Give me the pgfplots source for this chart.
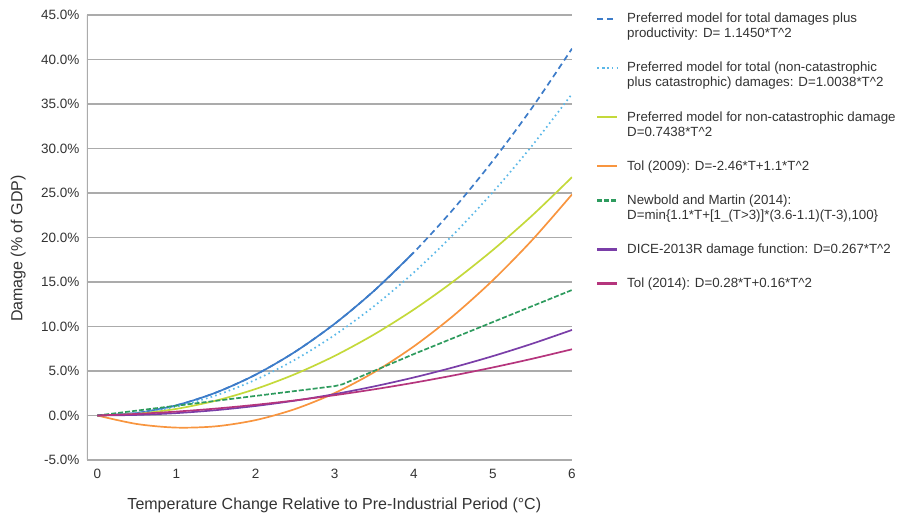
\documentclass[border=0pt]{standalone}
\usepackage{fontspec}
\setmainfont{Liberation Sans}
\usepackage{pgfplots}
\pgfplotsset{compat=1.18}
\definecolor{cBlue}{HTML}{3D7CC9}
\definecolor{cLBlue}{HTML}{5BB8E8}
\definecolor{cYG}{HTML}{C4D93A}
\definecolor{cOr}{HTML}{F8953F}
\definecolor{cGr}{HTML}{2E9B5E}
\definecolor{cPu}{HTML}{7A3EA8}
\definecolor{cMa}{HTML}{B5357D}
\definecolor{cGrid}{HTML}{ABABAB}
\definecolor{cTxt}{HTML}{333333}
\begin{document}
\begin{tikzpicture}
\useasboundingbox (0,0) rectangle (897pt,516pt);
\begin{axis}[
  at={(87pt,56pt)}, anchor=south west,
  scale only axis, width=485pt, height=445pt,
  xmin=-0.13, xmax=6, ymin=-5, ymax=45,
  xtick={0,1,2,3,4,5,6},
  ytick={-5,0,5,10,15,20,25,30,35,40,45},
  yticklabels={-5.0\%,0.0\%,5.0\%,10.0\%,15.0\%,20.0\%,25.0\%,30.0\%,35.0\%,40.0\%,45.0\%},
  /pgf/number format/assume math mode=true,
  axis line style={draw=none},
  axis x line*=bottom,
  axis y line*=left,
  major tick length=0pt,
  ymajorgrids, grid style={cGrid, line width=1.3pt},
  tick label style={font=\fontsize{13.5}{15}\selectfont, text=cTxt},
  xticklabel style={yshift=-6pt},
  yticklabel style={xshift=-4pt},
  xlabel={Temperature Change Relative to Pre-Industrial Period (°C)},
  ylabel={Damage (\% of GDP)},
  label style={font=\fontsize{16}{18}\selectfont, text=cTxt},
  xlabel style={at={(axis description cs:0.51,0)}, anchor=center, yshift=-45pt},
  ylabel style={at={(axis description cs:-0.142,0.475)}, anchor=center},
  legend image code/.code={\draw[#1, line width=2.3pt] plot coordinates {(0cm,0cm) (0.7cm,0cm)}; \path (0.95cm,0cm);},
  legend style={at={(axis description cs:1,1)}, anchor=north west, xshift=21pt, yshift=6pt,
    draw=none, fill=none, font=\fontsize{13.3}{15}\selectfont, text=cTxt,
    row sep=19pt, cells={anchor=west, align=left}},
  legend cell align=left,
  every axis plot/.append style={line width=1.7pt},
]
\draw[cGrid, line width=1.3pt] (axis cs:-0.13,-5) -- (axis cs:-0.13,45);
% solid blue underlay
\addplot[cBlue, smooth, forget plot] coordinates {
(0,0) (0.5,0.286) (1,1.145) (1.5,2.576) (2,4.58) (2.5,7.156) (3,10.305) (3.5,14.026) (4,18.32)};
\addplot[cBlue, smooth, dash pattern=on 6pt off 4pt, legend image post style={yshift=7.3pt}] coordinates {
(0,0) (0.5,0.286) (1,1.145) (1.5,2.576) (2,4.58) (2.5,7.156) (3,10.305) (3.5,14.026) (4,18.32) (4.5,23.186) (5,28.625) (5.5,34.636) (6,41.22)};
\addlegendentry{Preferred model for total damages plus\\productivity: D= 1.1450*T\^{}2}
\addplot[cLBlue, smooth, dash pattern=on 1.6pt off 3.2pt, legend image post style={yshift=7.3pt}] coordinates {
(0,0) (0.5,0.251) (1,1.004) (1.5,2.259) (2,4.015) (2.5,6.274) (3,9.034) (3.5,12.297) (4,16.061) (4.5,20.327) (5,25.095) (5.5,30.365) (6,36.137)};
\addlegendentry{Preferred model for total (non-catastrophic\\plus catastrophic) damages: D=1.0038*T\^{}2}
\addplot[cYG, smooth, legend image post style={yshift=7.3pt}] coordinates {
(0,0) (0.5,0.186) (1,0.744) (1.5,1.674) (2,2.975) (2.5,4.649) (3,6.694) (3.5,9.112) (4,11.901) (4.5,15.062) (5,18.595) (5.5,22.5) (6,26.777)};
\addlegendentry{Preferred model for non-catastrophic damage\\D=0.7438*T\^{}2}
\addplot[cOr, smooth] coordinates {
(0,0) (0.5,-0.955) (1,-1.36) (1.5,-1.215) (2,-0.52) (2.5,0.725) (3,2.52) (3.5,4.865) (4,7.76) (4.5,11.205) (5,15.2) (5.5,19.745) (6,24.84)};
\addlegendentry{Tol (2009): D=-2.46*T+1.1*T\^{}2}
\addplot[cGr, dash pattern=on 5pt off 2pt, legend image post style={yshift=7.3pt}] coordinates {
(0,0) (1,1.1) (2,2.2) (2.9,3.19) (3,3.3) (3.1,3.51) (4,6.9) (5,10.5) (6,14.1)};
\addlegendentry{Newbold and Martin (2014):\\D=min\{1.1*T+[1\_(T>3)]*(3.6-1.1)(T-3),100\}}
\addplot[cPu, smooth] coordinates {
(0,0) (0.5,0.067) (1,0.267) (1.5,0.601) (2,1.068) (2.5,1.669) (3,2.403) (3.5,3.271) (4,4.272) (4.5,5.407) (5,6.675) (5.5,8.077) (6,9.612)};
\addlegendentry{DICE-2013R damage function: D=0.267*T\^{}2}
\addplot[cMa, smooth] coordinates {
(0,0) (0.5,0.18) (1,0.44) (1.5,0.78) (2,1.2) (2.5,1.7) (3,2.28) (3.5,2.94) (4,3.68) (4.5,4.5) (5,5.4) (5.5,6.38) (6,7.44)};
\addlegendentry{Tol (2014): D=0.28*T+0.16*T\^{}2}
\end{axis}
\end{tikzpicture}
\end{document}
